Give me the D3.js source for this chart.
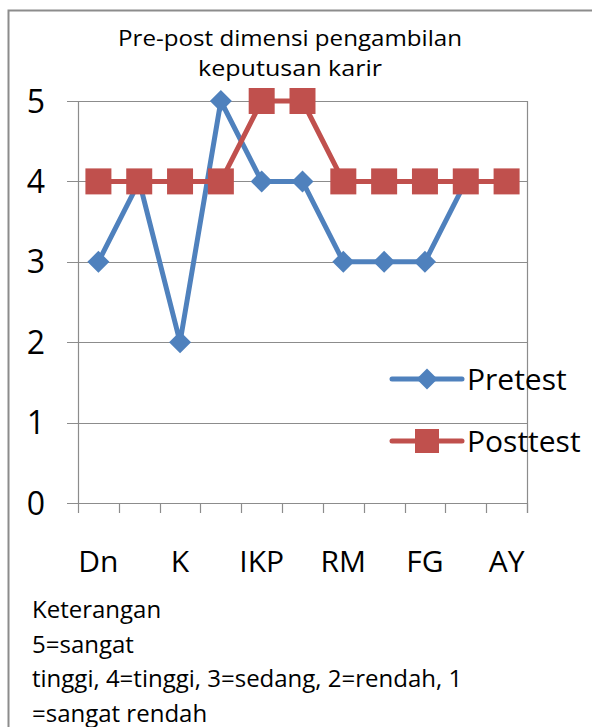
<!DOCTYPE html>
<html>
<head>
<meta charset="utf-8">
<script src="https://cdn.jsdelivr.net/npm/d3@7"></script>
<style>
  body { margin: 0; background: #fff; }
  text { font-family: "Open Sans", "Noto Sans", sans-serif; fill: #000; }
</style>
</head>
<body>
<div id="chart"></div>
<script>
// categories (only every other label is printed on the axis)
var categories = ["Dn", "", "K", "", "IKP", "", "RM", "", "FG", "", "AY"];
var pretest  = [3, 4, 2, 5, 4, 4, 3, 3, 3, 4, 4];
var posttest = [4, 4, 4, 4, 5, 5, 4, 4, 4, 4, 4];
var yTicks = [0, 1, 2, 3, 4, 5];
var seriesNames = ["Pretest", "Posttest"];
var titleLines = ["Pre-post dimensi pengambilan", "keputusan karir"];
var noteLines = ["Keterangan", "5=sangat", "tinggi, 4=tinggi, 3=sedang, 2=rendah, 1", "=sangat rendah"];

var W = 592, H = 727;
var plot = { left: 78, right: 527, top: 101, bottom: 503 };

var svg = d3.select("#chart").append("svg")
    .attr("width", W).attr("height", H);

// outer frame
svg.append("rect")
    .attr("x", 8.5).attr("y", 10.5)
    .attr("width", 600).attr("height", 740)
    .attr("fill", "none").attr("stroke", "#8c8c8c").attr("stroke-width", 2);

// scales
var x = d3.scaleBand()
    .domain(d3.range(categories.length))
    .range([plot.left, plot.right])
    .padding(0);
var y = d3.scaleLinear().domain([0, 5]).range([plot.bottom, plot.top]);

// gridlines
svg.append("g").selectAll("line")
    .data(yTicks)
    .enter().append("line")
    .attr("x1", plot.left - 11).attr("x2", plot.right)
    .attr("y1", function(d) { return Math.round(y(d)) + 0.5; })
    .attr("y2", function(d) { return Math.round(y(d)) + 0.5; })
    .attr("stroke", "#8c8c8c").attr("stroke-width", 1.2);

// left axis line + right border
svg.append("line")
    .attr("x1", plot.left + 0.5).attr("x2", plot.left + 0.5)
    .attr("y1", plot.top).attr("y2", plot.bottom)
    .attr("stroke", "#8c8c8c").attr("stroke-width", 1.2);
svg.append("line")
    .attr("x1", plot.right + 0.5).attr("x2", plot.right + 0.5)
    .attr("y1", plot.top).attr("y2", plot.bottom + 10)
    .attr("stroke", "#8c8c8c").attr("stroke-width", 1.2);

// x tick marks at category boundaries
var bounds = d3.range(categories.length + 1).map(function(i) { return plot.left + i * x.bandwidth(); });
svg.append("g").selectAll("line")
    .data(bounds)
    .enter().append("line")
    .attr("x1", function(d) { return Math.round(d) + 0.5; })
    .attr("x2", function(d) { return Math.round(d) + 0.5; })
    .attr("y1", plot.bottom).attr("y2", plot.bottom + 10)
    .attr("stroke", "#8c8c8c").attr("stroke-width", 1.2);

// y labels
svg.append("g").selectAll("text")
    .data(yTicks)
    .enter().append("text")
    .attr("x", 36).attr("y", function(d) { return y(d) + 11.5; })
    .attr("text-anchor", "middle")
    .style("font-size", "32px")
    .text(function(d) { return d; });

// x labels
svg.append("g").selectAll("text")
    .data(categories)
    .enter().append("text")
    .attr("x", function(d, i) { return x(i) + x.bandwidth() / 2; })
    .attr("y", 572)
    .attr("text-anchor", "middle")
    .style("font-size", "30px")
    .text(function(d) { return d; });

// title (two lines, stretched to the width seen in the reference)
var titleWidths = [344, 184];
svg.append("g").selectAll("text")
    .data(titleLines)
    .enter().append("text")
    .attr("x", 290).attr("y", function(d, i) { return 46 + i * 30; })
    .attr("text-anchor", "middle")
    .attr("textLength", function(d, i) { return titleWidths[i]; })
    .attr("lengthAdjust", "spacingAndGlyphs")
    .style("font-size", "21px")
    .text(function(d) { return d; });

var colors = { Pretest: "#4f81bd", Posttest: "#c0504d" };
var line = d3.line()
    .x(function(d, i) { return x(i) + x.bandwidth() / 2; })
    .y(function(d) { return y(d); });

var diamond = function(s) { return "M0," + (-s) + "L" + s + ",0L0," + s + "L" + (-s) + ",0Z"; };
var square = function(s) { return "M" + (-s) + "," + (-s) + "h" + (2 * s) + "v" + (2 * s) + "h" + (-2 * s) + "Z"; };

// Pretest
svg.append("path").datum(pretest)
    .attr("d", line).attr("fill", "none")
    .attr("stroke", colors.Pretest).attr("stroke-width", 5)
    .attr("stroke-linejoin", "round");
svg.append("g").selectAll("path")
    .data(pretest).enter().append("path")
    .attr("transform", function(d, i) { return "translate(" + (x(i) + x.bandwidth() / 2) + "," + y(d) + ")"; })
    .attr("d", diamond(11))
    .attr("fill", colors.Pretest);

// Posttest
svg.append("path").datum(posttest)
    .attr("d", line).attr("fill", "none")
    .attr("stroke", colors.Posttest).attr("stroke-width", 5)
    .attr("stroke-linejoin", "round");
svg.append("g").selectAll("path")
    .data(posttest).enter().append("path")
    .attr("transform", function(d, i) { return "translate(" + (x(i) + x.bandwidth() / 2) + "," + y(d) + ")"; })
    .attr("d", square(13))
    .attr("fill", colors.Posttest);

// legend
var legend = svg.append("g").selectAll("g")
    .data(seriesNames).enter().append("g")
    .attr("transform", function(d, i) { return "translate(0," + (379 + i * 62) + ")"; });
legend.append("line")
    .attr("x1", 392).attr("x2", 462)
    .attr("stroke", function(d) { return colors[d]; }).attr("stroke-width", 5)
    .attr("stroke-linecap", "round");
legend.append("path")
    .attr("transform", "translate(427,0)")
    .attr("d", function(d) { return d === "Pretest" ? diamond(10.5) : square(12); })
    .attr("fill", function(d) { return colors[d]; });
legend.append("text")
    .attr("x", 467).attr("y", 11)
    .style("font-size", "30px")
    .text(function(d) { return d; });

// note text
svg.append("g").selectAll("text")
    .data(noteLines)
    .enter().append("text")
    .attr("x", 32).attr("y", function(d, i) { return 618 + i * 34.5; })
    .style("font-size", "24px")
    .text(function(d) { return d; });
</script>
</body>
</html>
